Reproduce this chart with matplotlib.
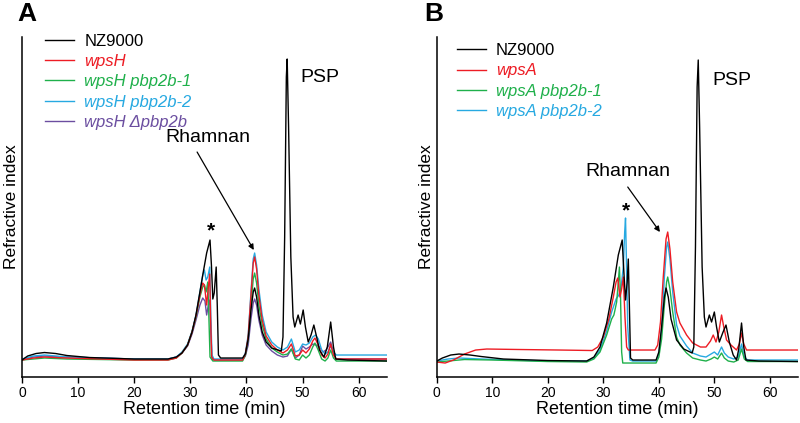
import matplotlib
matplotlib.use("Agg")
import matplotlib.pyplot as plt

plt.rcParams['font.family'] = ['Liberation Sans', 'DejaVu Sans']

# retention time (min), refractive index signal (arbitrary units)
A_NZ9000 = [(0, 17), (1, 21), (2.5, 23.5), (4, 24.5), (6, 23.5), (8, 21.5), (12, 19.5), (20, 18), (26, 18),
            (27.5, 20), (28.5, 24), (29.5, 32), (30.3, 45), (31, 62), (31.7, 85), (32.3, 105), (32.9, 124),
            (33.5, 137), (33.75, 112), (34.0, 78), (34.25, 84), (34.6, 110), (34.8, 70), (35.0, 22), (35.4, 19),
            (39.3, 19), (39.8, 23), (40.3, 38), (40.8, 67), (41.2, 85), (41.45, 89), (41.8, 80), (42.2, 62),
            (42.8, 45), (43.5, 35), (44.5, 29), (46.2, 26), (46.5, 40), (46.8, 140), (47.1, 300), (47.25, 318),
            (47.5, 250), (47.9, 120), (48.3, 60), (48.6, 50), (49.2, 62), (49.6, 53), (50.1, 67), (50.5, 50),
            (51.0, 35), (51.5, 42), (52.0, 52), (52.5, 40), (53.0, 27), (53.8, 20), (54.4, 30), (55.0, 55),
            (55.5, 30), (55.9, 18), (58, 17), (65, 16)]
A_WPSH = [(0, 17), (2, 19), (4, 20), (8, 19), (20, 17), (26, 17), (27.5, 19), (28.5, 24), (29.5, 32), (30.3, 45),
          (31, 61), (31.7, 82), (32.2, 94), (32.5, 92), (32.9, 72), (33.2, 90), (33.45, 103), (33.6, 60), (33.8, 20),
          (34.2, 17), (39.3, 17), (39.8, 23), (40.3, 40), (40.8, 82), (41.2, 114), (41.45, 120), (41.8, 108),
          (42.2, 82), (42.8, 57), (43.5, 41), (44.5, 32), (45.5, 27), (46.5, 24), (47.3, 27), (48.0, 33), (48.7, 21),
          (49.4, 22), (50.0, 27), (50.6, 24), (51.2, 28), (51.8, 36), (52.2, 39), (52.7, 33), (53.4, 22), (54.0, 19),
          (54.5, 23), (55.0, 33), (55.5, 22), (56.0, 18), (65, 18)]
A_PBP1 = [(0, 17), (4, 19), (8, 18), (20, 17), (26, 17), (27.5, 19), (28.5, 24), (29.5, 32), (30.3, 45), (31, 60),
          (31.7, 80), (32.2, 90), (32.5, 92), (32.8, 85), (33.1, 95), (33.3, 60), (33.5, 20), (34, 16), (39.3, 16),
          (39.8, 22), (40.3, 38), (40.8, 72), (41.2, 98), (41.45, 104), (41.8, 94), (42.2, 72), (42.8, 52),
          (43.5, 38), (44.5, 29), (45.5, 25), (46.5, 22), (47.3, 23), (48.0, 28), (48.7, 18), (49.4, 17), (50.0, 22),
          (50.6, 19), (51.2, 22), (51.8, 30), (52.2, 34), (52.7, 28), (53.4, 18), (54.0, 16), (54.5, 19), (55.0, 27),
          (55.5, 19), (56.0, 16), (65, 16)]
A_PBP2 = [(0, 18), (2, 21), (4, 22), (8, 20), (20, 18), (26, 18), (27.5, 20), (28.5, 25), (29.5, 33), (30.3, 46),
          (31, 62), (31.7, 85), (32.2, 102), (32.5, 107), (32.8, 97), (33.1, 100), (33.45, 110), (33.65, 60),
          (33.85, 22), (34.2, 18), (39.3, 18), (39.8, 24), (40.3, 42), (40.8, 85), (41.2, 118), (41.45, 124),
          (41.8, 112), (42.2, 88), (42.8, 62), (43.5, 45), (44.5, 35), (45.5, 30), (46.5, 27), (47.3, 30), (48.0, 38),
          (48.7, 25), (49.4, 27), (50.0, 33), (50.6, 32), (51.2, 34), (51.8, 40), (52.3, 42), (52.8, 38), (53.4, 27),
          (54.0, 23), (54.5, 25), (55.0, 31), (55.5, 25), (56.0, 22), (65, 22)]
A_DPBP = [(0, 17), (2, 20), (4, 21), (8, 20), (20, 18), (26, 18), (27.5, 20), (28.5, 24), (29.5, 31), (30.3, 43),
          (31, 57), (31.7, 72), (32.2, 79), (32.6, 76), (32.9, 62), (33.2, 72), (33.45, 77), (33.65, 45), (33.85, 18),
          (34.2, 17), (39.3, 17), (39.8, 21), (40.3, 32), (40.8, 58), (41.2, 74), (41.45, 78), (41.8, 72), (42.2, 57),
          (42.8, 42), (43.5, 32), (44.5, 26), (45.5, 22), (46.5, 20), (47.3, 21), (48.0, 28), (48.7, 19), (49.4, 22),
          (50.0, 31), (50.6, 28), (51.2, 30), (51.8, 33), (52.4, 32), (53.0, 30), (53.6, 25), (54.2, 27), (55.0, 35),
          (55.6, 22), (56.0, 18), (65, 18)]

B_NZ9000 = [(0, 16), (1, 19), (2.5, 22), (4, 23), (6, 22), (8, 20.5), (12, 18), (20, 16.5), (27, 16), (28.3, 20),
            (29.4, 30), (30.6, 54), (31.8, 90), (32.7, 122), (33.4, 137), (33.7, 105), (34.0, 77), (34.3, 95),
            (34.5, 118), (34.7, 70), (34.9, 19), (35.3, 17), (39.5, 17), (40.0, 25), (40.5, 50), (41.0, 80),
            (41.3, 89), (41.7, 80), (42.2, 58), (43.2, 37), (44.5, 28), (46.0, 24), (46.3, 30), (46.6, 130),
            (46.9, 290), (47.1, 317), (47.35, 250), (47.8, 110), (48.2, 60), (48.5, 50), (49.1, 62), (49.5, 55),
            (50.0, 65), (50.4, 50), (50.9, 35), (51.5, 44), (52.1, 52), (52.7, 35), (53.4, 22), (54.0, 17),
            (54.4, 28), (54.9, 54), (55.3, 30), (55.7, 17), (58, 16), (65, 15.5)]
B_WPSA = [(0, 15), (1.5, 14), (3, 17), (5, 23), (7, 27), (9, 28), (15, 27.5), (22, 27), (28, 26.5), (29, 30),
          (30, 40), (31, 58), (31.8, 80), (32.3, 95), (32.6, 99), (33.0, 80), (33.3, 88), (33.6, 100), (33.9, 60),
          (34.2, 30), (34.5, 27), (39.3, 27), (39.8, 32), (40.3, 55), (40.8, 100), (41.3, 138), (41.6, 145),
          (42.0, 128), (42.5, 95), (43.2, 65), (43.8, 54), (45, 42), (46.1, 34), (47.5, 30), (48.5, 30), (49.3, 36),
          (49.8, 42), (50.3, 35), (50.8, 45), (51.3, 62), (51.7, 50), (52.2, 37), (53, 32), (54, 27), (54.5, 33),
          (54.9, 44), (55.3, 33), (55.8, 27), (65, 27)]
B_PBP1 = [(0, 15), (2, 16), (5, 17.5), (10, 17), (20, 15.5), (27, 15), (28.3, 18), (29.4, 25), (30.6, 42),
          (31.5, 58), (31.9, 62), (32.1, 67), (32.4, 75), (32.7, 95), (32.9, 110), (33.1, 80), (33.3, 25), (33.5, 14),
          (39.5, 14), (40.0, 20), (40.5, 38), (41.0, 72), (41.4, 95), (41.6, 100), (42.0, 88), (42.5, 65), (43.2, 40),
          (43.8, 32), (45, 24), (46.1, 19), (47.5, 17), (48.5, 16), (49.4, 18), (50.0, 20), (50.6, 18), (51.3, 24),
          (51.8, 19), (52.5, 16), (53.5, 15), (54.3, 17), (54.9, 28), (55.4, 18), (56, 15.5), (65, 15.5)]
B_PBP2 = [(0, 16), (2, 18), (4, 19), (8, 18), (20, 16), (27, 16), (28.3, 19), (29.4, 27), (30.6, 46), (31.5, 65),
          (32.3, 78), (32.8, 82), (33.2, 90), (33.6, 110), (33.85, 145), (34.0, 159), (34.15, 120), (34.4, 50),
          (34.8, 17), (35.3, 16), (39.5, 16), (40.0, 23), (40.5, 48), (41.0, 100), (41.4, 130), (41.6, 135),
          (42.0, 118), (42.5, 85), (43.2, 52), (43.8, 41), (45, 31), (46.1, 24), (47.5, 21), (48.5, 20), (49.4, 23),
          (50.0, 25), (50.6, 22), (51.3, 30), (51.8, 24), (52.5, 20), (53.5, 18), (54.3, 20), (54.9, 33), (55.4, 20),
          (56, 17), (65, 17)]

BLACK, RED, GREEN, CYAN, PURPLE = '#000000', '#ed1c24', '#1fb04b', '#27a9e1', '#6b4ea0'

panel_a = [('NZ9000', A_NZ9000, BLACK), ('wpsH', A_WPSH, RED), ('wpsH pbp2b-1', A_PBP1, GREEN),
           ('wpsH pbp2b-2', A_PBP2, CYAN), ('wpsH Δpbp2b', A_DPBP, PURPLE)]
panel_b = [('NZ9000', B_NZ9000, BLACK), ('wpsA', B_WPSA, RED), ('wpsA pbp2b-1', B_PBP1, GREEN),
           ('wpsA pbp2b-2', B_PBP2, CYAN)]


def draw_panel(ax, traces, legend_x, legend_y):
    handles = []
    # mutants first, wild type on top
    for name, pts, col in traces[1:][::-1] + traces[:1]:
        t = [p[0] for p in pts]
        h = [p[1] for p in pts]
        ln, = ax.plot(t, h, color=col, lw=1.0, label=name, solid_joinstyle='round')
        handles.append(ln)
    handles = handles[-1:] + handles[:-1][::-1]
    leg = ax.legend(handles=handles, loc='upper left', bbox_to_anchor=(legend_x, legend_y), frameon=False,
                    fontsize=12, handlelength=1.75, handletextpad=0.6, labelspacing=0.32,
                    borderaxespad=0, borderpad=0, labelcolor='linecolor')
    for txt in leg.get_texts()[1:]:
        txt.set_fontstyle('italic')
    ax.set_xlim(0, 65)
    ax.set_ylim(0, 340)
    ax.set_xticks(range(0, 70, 10))
    ax.set_yticks([])
    ax.spines['top'].set_visible(False)
    ax.spines['right'].set_visible(False)
    ax.spines['left'].set_linewidth(1.1)
    ax.spines['bottom'].set_linewidth(1.1)
    ax.tick_params(axis='x', direction='out', length=4.5, width=1.0, labelsize=10, pad=2)
    ax.set_xlabel('Retention time (min)', fontsize=13, labelpad=1)
    ax.set_ylabel('Refractive index', fontsize=12.5, labelpad=2)


fig = plt.figure(figsize=(8, 4.23), dpi=100)
ax_a = fig.add_axes([0.0275, 0.1087, 0.456, 0.8038])
ax_b = fig.add_axes([0.546, 0.1087, 0.451, 0.8038])

draw_panel(ax_a, panel_a, 0.063, 1.01)
draw_panel(ax_b, panel_b, 0.055, 0.982)

arrow = dict(arrowstyle='-|>', lw=0.9, color='k', mutation_scale=8, shrinkA=0, shrinkB=0)
ax_a.annotate('', xy=(41.3, 127), xytext=(31.2, 225), arrowprops=arrow)
ax_a.text(33.2, 240, 'Rhamnan', fontsize=14, ha='center', va='center')
ax_a.text(53.0, 300, 'PSP', fontsize=14, ha='center', va='center')
ax_a.text(33.6, 146, '*', fontsize=15, ha='center', va='center', fontweight='bold')

ax_b.annotate('', xy=(40.2, 145), xytext=(34.4, 190), arrowprops=arrow)
ax_b.text(34.4, 206, 'Rhamnan', fontsize=14, ha='center', va='center')
ax_b.text(53.2, 297, 'PSP', fontsize=14, ha='center', va='center')
ax_b.text(34.1, 166, '*', fontsize=15, ha='center', va='center', fontweight='bold')

fig.text(27 / 800, 1 - 14 / 423, 'A', fontsize=19, fontweight='bold', ha='center', va='center')
fig.text(434 / 800, 1 - 14 / 423, 'B', fontsize=19, fontweight='bold', ha='center', va='center')

fig.savefig('out.png', dpi=100)
